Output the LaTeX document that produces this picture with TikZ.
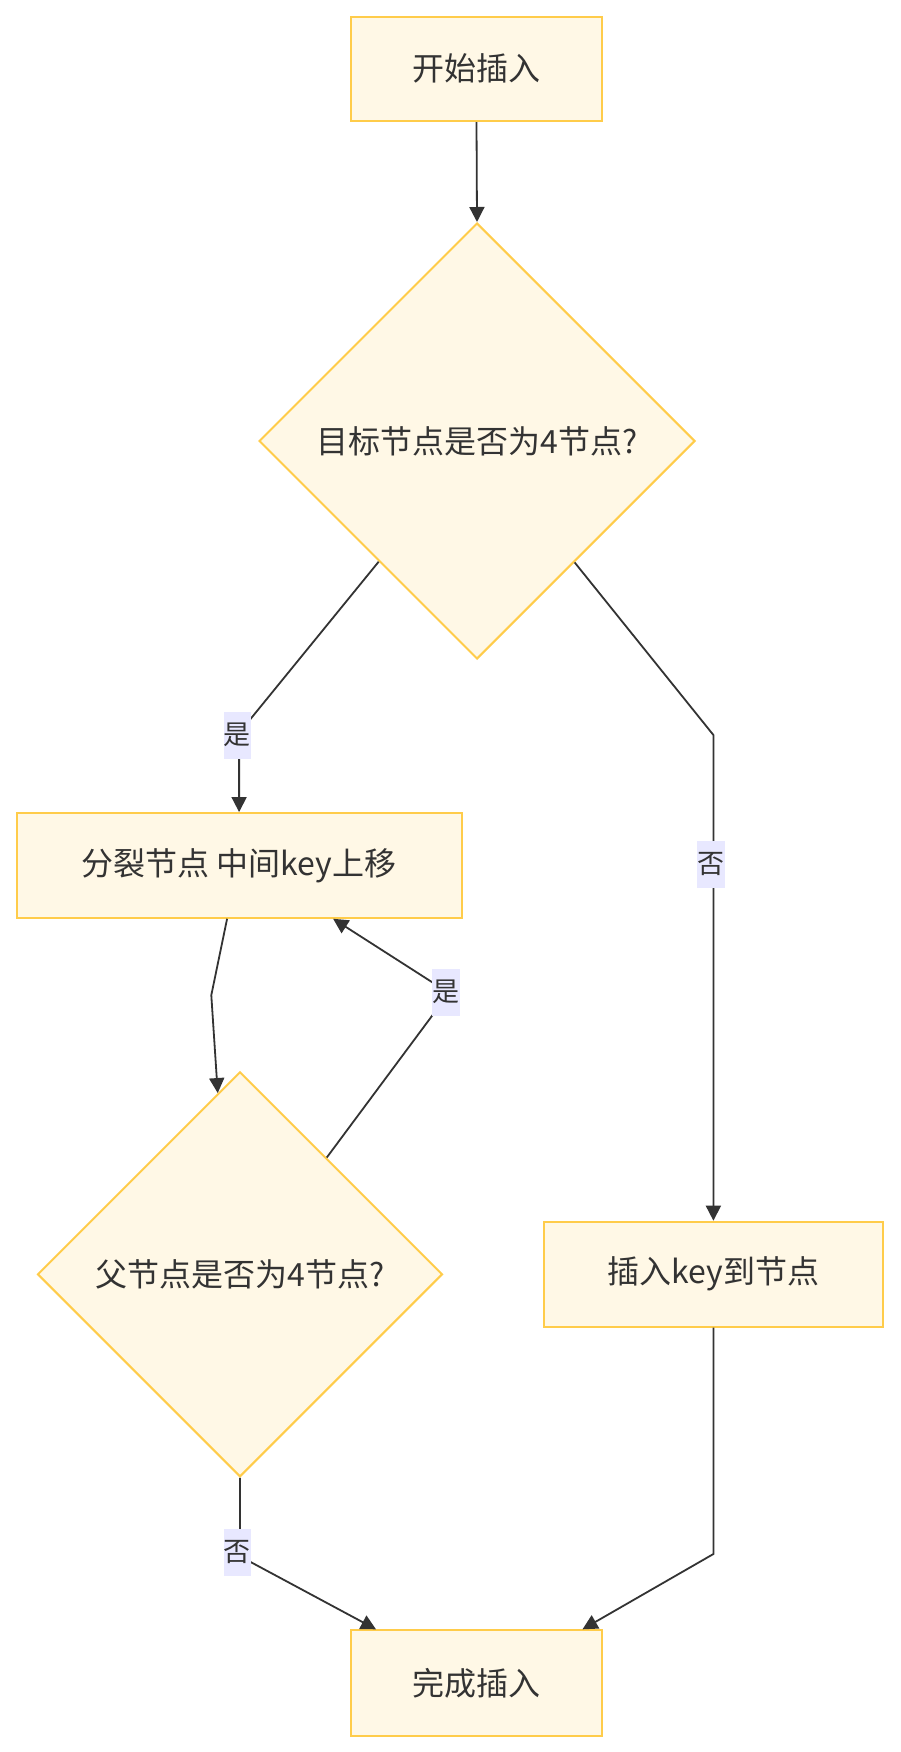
\documentclass[tikz,border=0pt]{standalone}
\usepackage{fontspec}
\setmainfont{Noto Sans CJK SC}
\usetikzlibrary{shapes.geometric,arrows.meta}
\definecolor{nodefill}{HTML}{FFF8E6}
\definecolor{nodestroke}{HTML}{FFCC4A}
\definecolor{labelbg}{HTML}{E8E8FF}
\definecolor{linec}{HTML}{333333}
\definecolor{textc}{HTML}{333333}
\begin{document}
\begin{tikzpicture}[x=1pt,y=-1pt,
  box/.style={draw=nodestroke, fill=nodefill, line width=2pt, rectangle, inner sep=0pt, text=textc, font=\fontsize{32}{38}\selectfont},
  dia/.style={draw=nodestroke, fill=nodefill, line width=2pt, diamond, aspect=1, inner sep=0pt, text=textc, font=\fontsize{32}{38}\selectfont},
  lab/.style={fill=labelbg, inner sep=0pt, minimum width=27.5pt, minimum height=47pt, text=textc, font=\fontsize{27}{32}\selectfont},
  conn/.style={draw=linec, line width=1.8pt},
  arr/.style={conn, -{Triangle[length=15pt,width=15pt]}}
]
\useasboundingbox (0,0) rectangle (900,1752);
\fill[white] (0,0) rectangle (900,1752);

% nodes
\node[box, minimum width=250.5pt, minimum height=104.5pt] (start) at (476.5,68.8) {开始插入};
\node[dia, minimum width=436pt, minimum height=436pt] (d1) at (477,441) {目标节点是否为4节点?};
\node[box, minimum width=445pt, minimum height=104.7pt] (split) at (239.1,865.4) {分裂节点 中间key上移};
\node[dia, minimum width=405pt, minimum height=405pt] (d2) at (240,1274.3) {父节点是否为4节点?};
\node[box, minimum width=339.3pt, minimum height=105pt] (ins) at (713.4,1274.2) {插入key到节点};
\node[box, minimum width=250.5pt, minimum height=105.4pt] (done) at (476.5,1683) {完成插入};

% bend points
\coordinate (b1) at (239.1,733);
\coordinate (b2) at (713.4,735);
\coordinate (b3) at (211.3,995.2);
\coordinate (b4) at (449,993);
\coordinate (b5) at (240,1556.3);
\coordinate (b6) at (713.4,1554);

% connectors
\draw[arr] (start.south) -- (d1.north);
\draw[arr] (d1) -- (b1) -- (split.north);
\draw[arr] (d1) -- (b2) -- (ins.north);
\draw[arr] ([xshift=-12pt]split.south) -- (b3) -- (d2.97);
\draw[arr] (d2) -- (b4) -- ([xshift=94pt]split.south);
\draw[arr] (d2.south) -- (b5) -- ([xshift=-100.5pt]done.north);
\draw[arr] (ins.south) -- (b6) -- ([xshift=106pt]done.north);

% labels
\node[lab] (l1) at (237.4,735) {是};
\node[lab] (l2) at (711.2,864) {否};
\node[lab] (l3) at (446,992.2) {是};
\node[lab] (l4) at (237.4,1552) {否};
\end{tikzpicture}
\end{document}
